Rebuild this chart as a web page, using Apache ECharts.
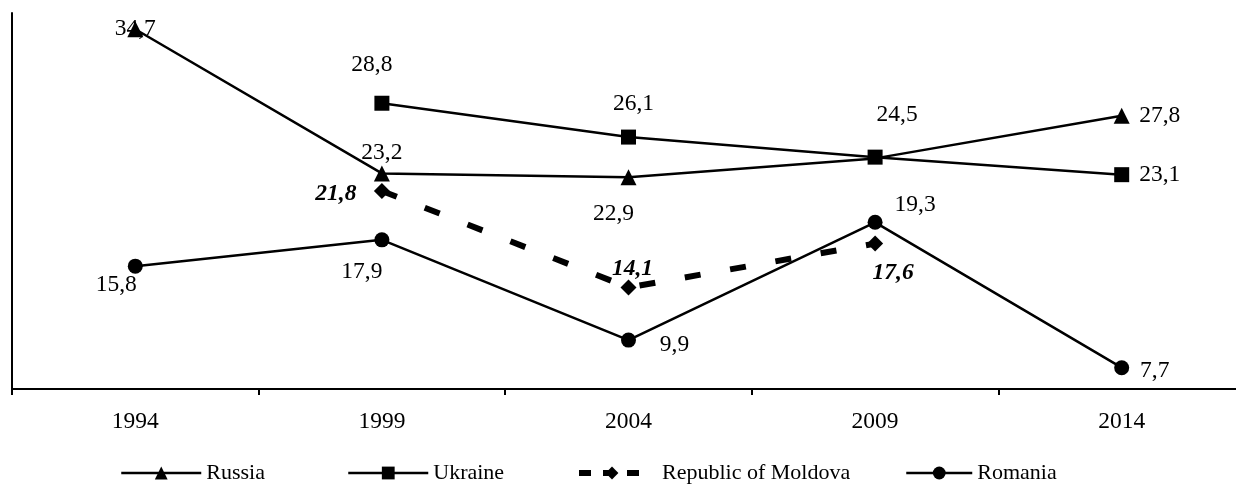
<!DOCTYPE html>
<html>
<head>
<meta charset="utf-8">
<script src="https://cdn.jsdelivr.net/npm/echarts@6/dist/echarts.min.js"></script>
<style>
  html, body { margin: 0; padding: 0; background: #fff; }
  #chart { width: 1236px; height: 491px; }
</style>
</head>
<body>
<div id="chart"></div>
<script>
const years = ['1994', '1999', '2004', '2009', '2014'];
const russia = [34.7, 23.2, 22.9, 24.4, 27.8];
const ukraine = [null, 28.8, 26.1, 24.5, 23.1];
const moldova = [null, 21.8, 14.1, 17.6, null];
const romania = [15.8, 17.9, 9.9, 19.3, 7.7];

// where each value label sits, relative to its point (null = no label)
const russiaLabelOffset = [[0, 0], [0, -21], [-15, 37], null, [38, 0]];
const ukraineLabelOffset = [null, [-10, -38], [5, -33], [22, -42], [38, 0]];
const moldovaLabelOffset = [null, [-46, 3], [4, -19], [18, 29], null];
const romaniaLabelOffset = [[-19, 19], [-20, 32], [46, 5], [40, -17], [33, 3]];

const FONT = '"Liberation Serif", "Times New Roman", serif';

function buildData(values, offsets, bold) {
  return values.map((v, i) => ({
    value: v === null ? '-' : v,
    label: offsets[i] ? {
      show: true,
      position: 'inside',
      offset: offsets[i],
      fontStyle: bold ? 'italic' : 'normal',
      fontWeight: bold ? 'bold' : 'normal'
    } : { show: false }
  }));
}

const labelBase = {
  color: '#000',
  fontFamily: FONT,
  fontSize: 23.5,
  formatter: p => String(p.value).replace('.', ',')
};

// one legend per item, the gaps in the original are uneven
function legendFor(name, left, width, lineStyle, textPad) {
  return {
    left: left,
    top: 462,
    padding: 0,
    itemWidth: width,
    itemHeight: 16,
    lineStyle: lineStyle,
    textStyle: { color: '#000', fontFamily: FONT, fontSize: 22, padding: [0, 0, 0, textPad] },
    data: [name]
  };
}

const chart = echarts.init(document.getElementById('chart'));

const option = {
  animation: false,
  backgroundColor: '#fff',
  grid: { left: 12, top: 13, width: 1233, bottom: 102, outerBoundsMode: 'none' },
  legend: [
    legendFor('Russia', 120, 80, { width: 2.5 }, 0),
    legendFor('Ukraine', 347, 80, { width: 2.5 }, 0),
    legendFor('Republic of Moldova', 576, 66, { width: 6, type: [12, 12] }, 12),
    legendFor('Romania', 905, 66, { width: 2.5 }, 0)
  ],
  xAxis: {
    type: 'category',
    data: years,
    boundaryGap: true,
    axisLine: { lineStyle: { color: '#000', width: 2 } },
    axisTick: { show: true, length: 6, lineStyle: { color: '#000', width: 2 } },
    axisLabel: { color: '#000', fontFamily: FONT, fontSize: 23.5, margin: 21 },
    splitLine: { show: false }
  },
  yAxis: {
    type: 'value',
    min: 6,
    max: 36,
    axisLine: { show: true, lineStyle: { color: '#000', width: 2 } },
    axisTick: { show: false },
    axisLabel: { show: false },
    splitLine: { show: false }
  },
  series: [
    {
      name: 'Russia',
      type: 'line',
      symbol: 'triangle',
      symbolSize: (v, p) => (p.dataIndex === 3 ? 0 : 16),
      itemStyle: { color: '#000' },
      lineStyle: { color: '#000', width: 2.5 },
      label: labelBase,
      data: buildData(russia, russiaLabelOffset, false),
      z: 2
    },
    {
      name: 'Ukraine',
      type: 'line',
      symbol: 'rect',
      symbolSize: 15,
      itemStyle: { color: '#000' },
      lineStyle: { color: '#000', width: 2.5 },
      label: labelBase,
      data: buildData(ukraine, ukraineLabelOffset, false),
      z: 3
    },
    {
      name: 'Republic of Moldova',
      type: 'line',
      symbol: 'diamond',
      symbolSize: 16,
      itemStyle: { color: '#000' },
      lineStyle: { color: '#000', width: 6, type: [16, 30], cap: 'butt' },
      label: labelBase,
      data: buildData(moldova, moldovaLabelOffset, true),
      z: 2
    },
    {
      name: 'Romania',
      type: 'line',
      symbol: 'circle',
      symbolSize: 15,
      itemStyle: { color: '#000' },
      lineStyle: { color: '#000', width: 2.5 },
      label: labelBase,
      data: buildData(romania, romaniaLabelOffset, false),
      z: 2
    }
  ]
};

chart.setOption(option);
</script>
</body>
</html>
